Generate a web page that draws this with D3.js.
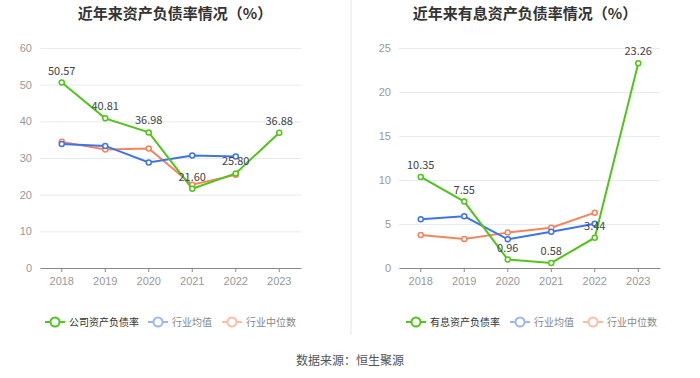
<!DOCTYPE html>
<html>
<head>
<meta charset="utf-8">
<script src="https://cdn.jsdelivr.net/npm/d3@7"></script>
<style>
  body { margin: 0; background: #fff; }
  svg { font-family: "Noto Sans CJK SC", "Noto Sans", sans-serif; }
</style>
</head>
<body>
<div id="chart"></div>
<script>
(function(){

  //chart data
  var years = ["2018", "2019", "2020", "2021", "2022", "2023"];

  var debtRatio = [50.57, 40.81, 36.98, 21.60, 25.80, 36.88];   //公司资产负债率
  var debtMean = [33.8, 33.3, 28.8, 30.7, 30.4, null];          //行业均值
  var debtMedian = [34.4, 32.3, 32.6, 22.7, 25.4, null];        //行业中位数
  var debtTicks = [0, 10, 20, 30, 40, 50, 60];

  var ibRatio = [10.35, 7.55, 0.96, 0.58, 3.44, 23.26];         //有息资产负债率
  var ibMean = [5.53, 5.87, 3.26, 4.13, 5.04, null];
  var ibMedian = [3.75, 3.30, 4.02, 4.58, 6.29, null];
  var ibTicks = [0, 5, 10, 15, 20, 25];

  var seriesNames = ["行业均值", "行业中位数"];
  var colors = ["#52c41a", "#3e74e6", "#f5845c"];
  var legendColors = ["#52c41a", "#9db6f0", "#f9bfa6"];

  var width = 700, height = 378;

  var svg = d3.select("#chart")
      .append("svg")
      .attr("width", width)
      .attr("height", height);

  //divider between the two panels
  svg.append("line")
      .attr("x1", 351).attr("x2", 351)
      .attr("y1", 0).attr("y2", 335)
      .attr("stroke", "#f3f3f3")
      .attr("stroke-width", 2);

  drawPanel({
      title: "近年来资产负债率情况（%）",
      titleX: 175,
      left: 40, right: 301,
      main: debtRatio, mean: debtMean, median: debtMedian,
      ticks: debtTicks,
      mainName: "公司资产负债率",
      legendX: [45, 148, 222]
  });

  drawPanel({
      title: "近年来有息资产负债率情况（%）",
      titleX: 525,
      left: 399, right: 660,
      main: ibRatio, mean: ibMean, median: ibMedian,
      ticks: ibTicks,
      mainName: "有息资产负债率",
      legendX: [406, 510, 583]
  });

  //source note
  svg.append("text")
      .attr("x", 350)
      .attr("y", 365)
      .attr("text-anchor", "middle")
      .attr("font-size", 12)
      .attr("fill", "#555")
      .text("数据来源：恒生聚源");

  function drawPanel(opt){
      var top = 48, bottom = 268;

      var x = d3.scaleBand()
          .domain(years)
          .range([opt.left, opt.right]);

      var y = d3.scaleLinear()
          .domain([0, opt.ticks[opt.ticks.length - 1]])
          .range([bottom, top]);

      var g = svg.append("g");

      //title
      g.append("text")
          .attr("x", opt.titleX)
          .attr("y", 19)
          .attr("text-anchor", "middle")
          .attr("font-size", 15)
          .attr("font-weight", "bold")
          .attr("fill", "#333")
          .text(opt.title);

      //gridlines + y labels
      var yAxis = d3.axisLeft(y)
          .tickValues(opt.ticks)
          .tickSize(-(opt.right - opt.left))
          .tickPadding(8);

      var ya = g.append("g")
          .attr("transform", "translate(" + opt.left + ",0)")
          .call(yAxis);
      ya.select(".domain").remove();
      ya.selectAll(".tick line").attr("stroke", "#e6eaf2");
      ya.selectAll(".tick text")
          .attr("fill", "#999")
          .attr("font-size", 11);

      //x axis
      var xAxis = d3.axisBottom(x)
          .tickSize(4)
          .tickSizeOuter(0)
          .tickPadding(5);

      var xa = g.append("g")
          .attr("transform", "translate(0," + bottom + ")")
          .call(xAxis);
      xa.select(".domain").attr("stroke", "#888");
      xa.selectAll(".tick line").attr("stroke", "#888");
      xa.selectAll(".tick text")
          .attr("fill", "#999")
          .attr("font-size", 11);

      var line = d3.line()
          .defined(function(d){ return d != null; })
          .x(function(d, i){ return x(years[i]) + x.bandwidth() / 2; })
          .y(function(d){ return y(d); });

      var series = [opt.main, opt.mean, opt.median];

      //draw in order so company line is on top
      [2, 1, 0].forEach(function(k){
          var data = series[k];
          g.append("path")
              .datum(data)
              .attr("fill", "none")
              .attr("stroke", colors[k])
              .attr("stroke-width", 2)
              .attr("d", line);

          g.selectAll(".pt" + k)
              .data(data.map(function(v, i){ return {v: v, i: i}; })
                        .filter(function(d){ return d.v != null; }))
              .enter()
              .append("circle")
              .attr("cx", function(d){ return x(years[d.i]) + x.bandwidth() / 2; })
              .attr("cy", function(d){ return y(d.v); })
              .attr("r", 2.5)
              .attr("fill", "#fff")
              .attr("stroke", colors[k])
              .attr("stroke-width", 1.5);
      });

      //value labels for company series
      g.selectAll(".lbl")
          .data(opt.main)
          .enter()
          .append("text")
          .attr("x", function(d, i){ return x(years[i]) + x.bandwidth() / 2; })
          .attr("y", function(d){ return y(d) - 8; })
          .attr("text-anchor", "middle")
          .attr("font-size", 11)
          .attr("fill", "#444")
          .text(function(d){ return d.toFixed(2); });

      //legend
      var names = [opt.mainName].concat(seriesNames);
      var ly = 322;
      names.forEach(function(name, k){
          var item = g.append("g").attr("transform", "translate(" + opt.legendX[k] + "," + ly + ")");
          item.append("line")
              .attr("x1", 0).attr("x2", 20)
              .attr("stroke", legendColors[k])
              .attr("stroke-width", 2);
          item.append("circle")
              .attr("cx", 10).attr("cy", 0).attr("r", 4.5)
              .attr("fill", "#fff")
              .attr("stroke", legendColors[k])
              .attr("stroke-width", 2);
          item.append("text")
              .attr("x", 24)
              .attr("y", 3.5)
              .attr("font-size", 10)
              .attr("fill", k == 0 ? "#333" : "#888")
              .text(name);
      });
  };

})();
</script>
</body>
</html>
